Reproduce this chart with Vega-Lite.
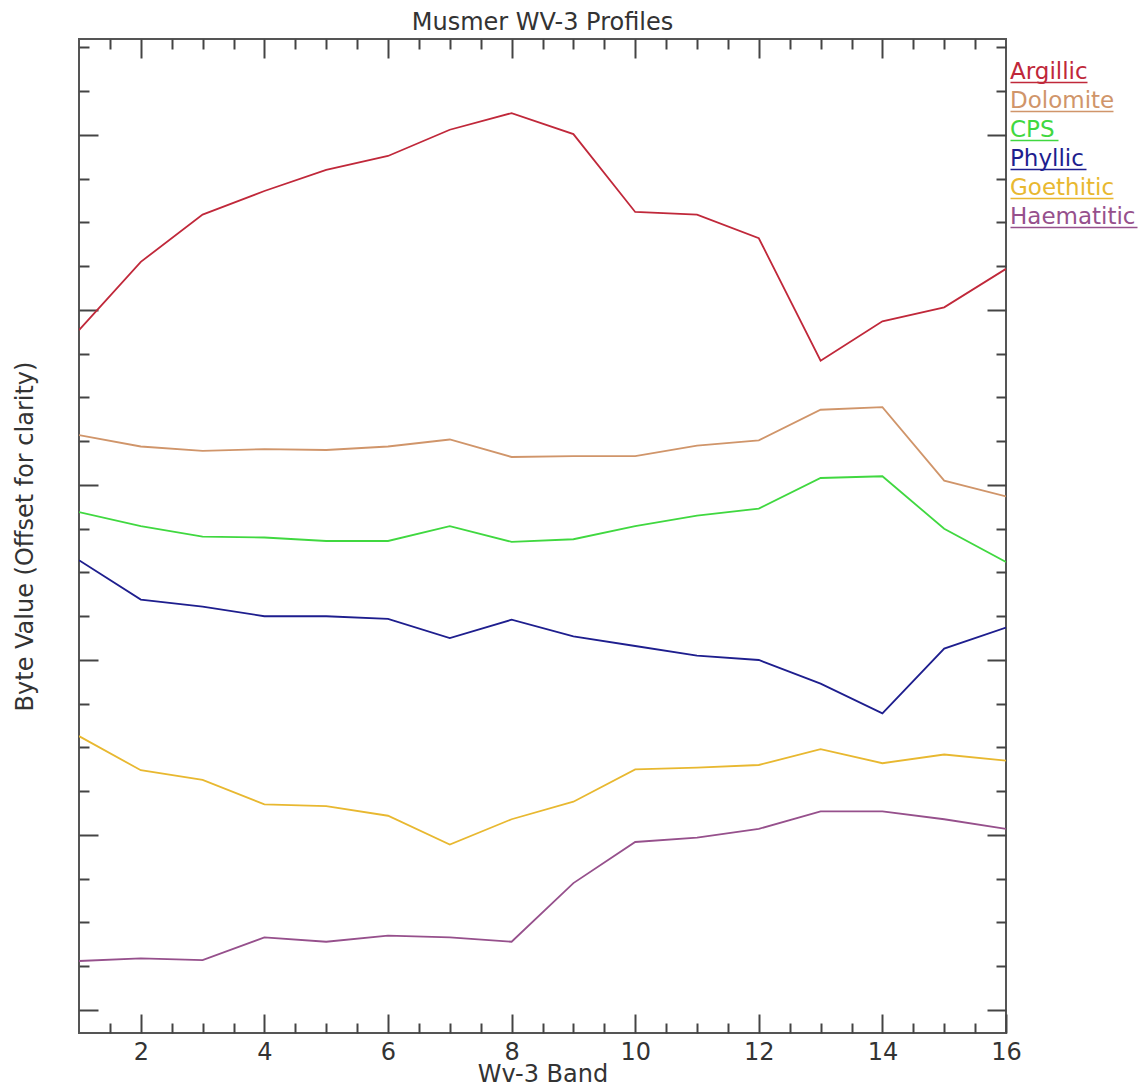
{
  "$schema": "https://vega.github.io/schema/vega-lite/v6.json",
  "width": 927,
  "height": 994,
  "autosize": {"type": "none"},
  "padding": {"left": 79, "top": 39, "right": 134, "bottom": 51},
  "background": "white",
  "title": {"text": "Musmer WV-3 Profiles", "fontSize": 24, "font": "DejaVu Sans", "fontWeight": "normal", "color": "#333", "offset": -16, "anchor": "middle", "baseline": "alphabetic"},
  "config": {
    "view": {"stroke": "#555", "strokeWidth": 2},
    "axis": {"grid": false, "domain": false, "tickColor": "#444", "tickWidth": 2, "labelFont": "DejaVu Sans", "titleFont": "DejaVu Sans", "labelColor": "#333", "titleColor": "#333", "titleFontWeight": "normal"}
  },
  "data": {"values": [
    {"band": 1, "series": "Argillic", "value": 77.7},
    {"band": 2, "series": "Argillic", "value": 85.5},
    {"band": 3, "series": "Argillic", "value": 90.9},
    {"band": 4, "series": "Argillic", "value": 93.6},
    {"band": 5, "series": "Argillic", "value": 96.0},
    {"band": 6, "series": "Argillic", "value": 97.6},
    {"band": 7, "series": "Argillic", "value": 100.6},
    {"band": 8, "series": "Argillic", "value": 102.5},
    {"band": 9, "series": "Argillic", "value": 100.1},
    {"band": 10, "series": "Argillic", "value": 91.2},
    {"band": 11, "series": "Argillic", "value": 90.9},
    {"band": 12, "series": "Argillic", "value": 88.2},
    {"band": 13, "series": "Argillic", "value": 74.2},
    {"band": 14, "series": "Argillic", "value": 78.7},
    {"band": 15, "series": "Argillic", "value": 80.3},
    {"band": 16, "series": "Argillic", "value": 84.7},
    {"band": 1, "series": "Dolomite", "value": 65.7},
    {"band": 2, "series": "Dolomite", "value": 64.4},
    {"band": 3, "series": "Dolomite", "value": 63.9},
    {"band": 4, "series": "Dolomite", "value": 64.1},
    {"band": 5, "series": "Dolomite", "value": 64.0},
    {"band": 6, "series": "Dolomite", "value": 64.4},
    {"band": 7, "series": "Dolomite", "value": 65.2},
    {"band": 8, "series": "Dolomite", "value": 63.2},
    {"band": 9, "series": "Dolomite", "value": 63.3},
    {"band": 10, "series": "Dolomite", "value": 63.3},
    {"band": 11, "series": "Dolomite", "value": 64.5},
    {"band": 12, "series": "Dolomite", "value": 65.1},
    {"band": 13, "series": "Dolomite", "value": 68.6},
    {"band": 14, "series": "Dolomite", "value": 68.9},
    {"band": 15, "series": "Dolomite", "value": 60.5},
    {"band": 16, "series": "Dolomite", "value": 58.7},
    {"band": 1, "series": "CPS", "value": 56.9},
    {"band": 2, "series": "CPS", "value": 55.3},
    {"band": 3, "series": "CPS", "value": 54.1},
    {"band": 4, "series": "CPS", "value": 54.0},
    {"band": 5, "series": "CPS", "value": 53.6},
    {"band": 6, "series": "CPS", "value": 53.6},
    {"band": 7, "series": "CPS", "value": 55.3},
    {"band": 8, "series": "CPS", "value": 53.5},
    {"band": 9, "series": "CPS", "value": 53.8},
    {"band": 10, "series": "CPS", "value": 55.3},
    {"band": 11, "series": "CPS", "value": 56.5},
    {"band": 12, "series": "CPS", "value": 57.3},
    {"band": 13, "series": "CPS", "value": 60.8},
    {"band": 14, "series": "CPS", "value": 61.0},
    {"band": 15, "series": "CPS", "value": 55.0},
    {"band": 16, "series": "CPS", "value": 51.2},
    {"band": 1, "series": "Phyllic", "value": 51.4},
    {"band": 2, "series": "Phyllic", "value": 46.9},
    {"band": 3, "series": "Phyllic", "value": 46.1},
    {"band": 4, "series": "Phyllic", "value": 45.0},
    {"band": 5, "series": "Phyllic", "value": 45.0},
    {"band": 6, "series": "Phyllic", "value": 44.7},
    {"band": 7, "series": "Phyllic", "value": 42.5},
    {"band": 8, "series": "Phyllic", "value": 44.6},
    {"band": 9, "series": "Phyllic", "value": 42.7},
    {"band": 10, "series": "Phyllic", "value": 41.6},
    {"band": 11, "series": "Phyllic", "value": 40.5},
    {"band": 12, "series": "Phyllic", "value": 40.0},
    {"band": 13, "series": "Phyllic", "value": 37.3},
    {"band": 14, "series": "Phyllic", "value": 33.9},
    {"band": 15, "series": "Phyllic", "value": 41.3},
    {"band": 16, "series": "Phyllic", "value": 43.7},
    {"band": 1, "series": "Goethitic", "value": 31.3},
    {"band": 2, "series": "Goethitic", "value": 27.4},
    {"band": 3, "series": "Goethitic", "value": 26.3},
    {"band": 4, "series": "Goethitic", "value": 23.5},
    {"band": 5, "series": "Goethitic", "value": 23.3},
    {"band": 6, "series": "Goethitic", "value": 22.2},
    {"band": 7, "series": "Goethitic", "value": 18.9},
    {"band": 8, "series": "Goethitic", "value": 21.8},
    {"band": 9, "series": "Goethitic", "value": 23.8},
    {"band": 10, "series": "Goethitic", "value": 27.5},
    {"band": 11, "series": "Goethitic", "value": 27.7},
    {"band": 12, "series": "Goethitic", "value": 28.0},
    {"band": 13, "series": "Goethitic", "value": 29.8},
    {"band": 14, "series": "Goethitic", "value": 28.2},
    {"band": 15, "series": "Goethitic", "value": 29.2},
    {"band": 16, "series": "Goethitic", "value": 28.5},
    {"band": 1, "series": "Haematitic", "value": 5.6},
    {"band": 2, "series": "Haematitic", "value": 5.9},
    {"band": 3, "series": "Haematitic", "value": 5.7},
    {"band": 4, "series": "Haematitic", "value": 8.3},
    {"band": 5, "series": "Haematitic", "value": 7.8},
    {"band": 6, "series": "Haematitic", "value": 8.5},
    {"band": 7, "series": "Haematitic", "value": 8.3},
    {"band": 8, "series": "Haematitic", "value": 7.8},
    {"band": 9, "series": "Haematitic", "value": 14.5},
    {"band": 10, "series": "Haematitic", "value": 19.2},
    {"band": 11, "series": "Haematitic", "value": 19.7},
    {"band": 12, "series": "Haematitic", "value": 20.7},
    {"band": 13, "series": "Haematitic", "value": 22.7},
    {"band": 14, "series": "Haematitic", "value": 22.7},
    {"band": 15, "series": "Haematitic", "value": 21.8},
    {"band": 16, "series": "Haematitic", "value": 20.7}
  ]},
  "layer": [
    {
      "mark": {"type": "line", "strokeWidth": 1.8, "clip": true},
      "encoding": {
        "x": {
          "field": "band", "type": "quantitative",
          "scale": {"domain": [1, 16], "nice": false, "zero": false},
          "axis": {
            "orient": "bottom",
            "values": [2, 4, 6, 8, 10, 12, 14, 16],
            "tickCount": 8,
            "tickSize": -19,
            "labelFontSize": 24,
            "labelPadding": 26,
            "labelFlush": false,
            "labelOverlap": false,
            "title": "Wv-3 Band",
            "titleFontSize": 24,
            "titlePadding": -2
          }
        },
        "y": {
          "field": "value", "type": "quantitative",
          "scale": {"domain": [-2.63, 110.97], "nice": false, "zero": false},
          "axis": {
            "orient": "left",
            "values": [0, 20, 40, 60, 80, 100],
            "tickSize": -19,
            "labels": false,
            "title": "Byte Value (Offset for clarity)",
            "titleFontSize": 24,
            "titlePadding": 41
          }
        },
        "color": {
          "field": "series", "type": "nominal",
          "scale": {
            "domain": ["Argillic", "Dolomite", "CPS", "Phyllic", "Goethitic", "Haematitic"],
            "range": ["#c0283a", "#d0956a", "#40d840", "#1e1e8e", "#e8b830", "#96508c"]
          },
          "legend": {
            "orient": "none",
            "legendX": 908,
            "legendY": 21,
            "title": null,
            "symbolType": "M 12 11 L 89 11",
            "symbolSize": 4,
            "symbolStrokeWidth": 1.5,
            "labelFont": "DejaVu Sans",
            "labelFontSize": 23,
            "labelOffset": 0,
            "labelLimit": 300,
            "rowPadding": 3.0,
            "encode": {
              "labels": {"update": {"fill": {"scale": "color", "field": "value"}}},
              "symbols": {"update": {"shape": {"signal": "datum.value === 'Argillic' ? 'M 12 11 L 89 11' : datum.value === 'Dolomite' ? 'M 12 11 L 115 11' : datum.value === 'CPS' ? 'M 12 11 L 60 11' : datum.value === 'Phyllic' ? 'M 12 11 L 88 11' : datum.value === 'Goethitic' ? 'M 12 11 L 115 11' : 'M 12 11 L 139 11'"}}}
            }
          }
        }
      }
    },
    {
      "mark": {"type": "line", "opacity": 0},
      "encoding": {
        "x": {
          "field": "band", "type": "quantitative",
          "axis": {
            "orient": "bottom",
            "values": [1.5, 2.5, 3, 3.5, 4.5, 5, 5.5, 6.5, 7, 7.5, 8.5, 9, 9.5, 10.5, 11, 11.5, 12.5, 13, 13.5, 14.5, 15, 15.5],
            "tickSize": -10,
            "labels": false,
            "title": null
          }
        },
        "y": {
          "field": "value", "type": "quantitative",
          "axis": {
            "orient": "left",
            "values": [5, 10, 15, 25, 30, 35, 45, 50, 55, 65, 70, 75, 85, 90, 95, 105, 110],
            "tickSize": -10,
            "labels": false,
            "title": null
          }
        },
        "detail": {"field": "series", "type": "nominal"}
      }
    },
    {
      "mark": {"type": "line", "opacity": 0},
      "encoding": {
        "x": {
          "field": "band", "type": "quantitative",
          "axis": {
            "orient": "top",
            "values": [2, 4, 6, 8, 10, 12, 14],
            "tickSize": -19,
            "labels": false,
            "title": null
          }
        },
        "y": {
          "field": "value", "type": "quantitative",
          "axis": {
            "orient": "right",
            "values": [0, 20, 40, 60, 80, 100],
            "tickSize": -19,
            "labels": false,
            "title": null
          }
        },
        "detail": {"field": "series", "type": "nominal"}
      }
    },
    {
      "mark": {"type": "line", "opacity": 0},
      "encoding": {
        "x": {
          "field": "band", "type": "quantitative",
          "axis": {
            "orient": "top",
            "values": [1.5, 2.5, 3, 3.5, 4.5, 5, 5.5, 6.5, 7, 7.5, 8.5, 9, 9.5, 10.5, 11, 11.5, 12.5, 13, 13.5, 14.5, 15, 15.5],
            "tickSize": -10,
            "labels": false,
            "title": null
          }
        },
        "y": {
          "field": "value", "type": "quantitative",
          "axis": {
            "orient": "right",
            "values": [5, 10, 15, 25, 30, 35, 45, 50, 55, 65, 70, 75, 85, 90, 95, 105, 110],
            "tickSize": -10,
            "labels": false,
            "title": null
          }
        },
        "detail": {"field": "series", "type": "nominal"}
      }
    }
  ],
  "resolve": {"axis": {"x": "independent", "y": "independent"}}
}
